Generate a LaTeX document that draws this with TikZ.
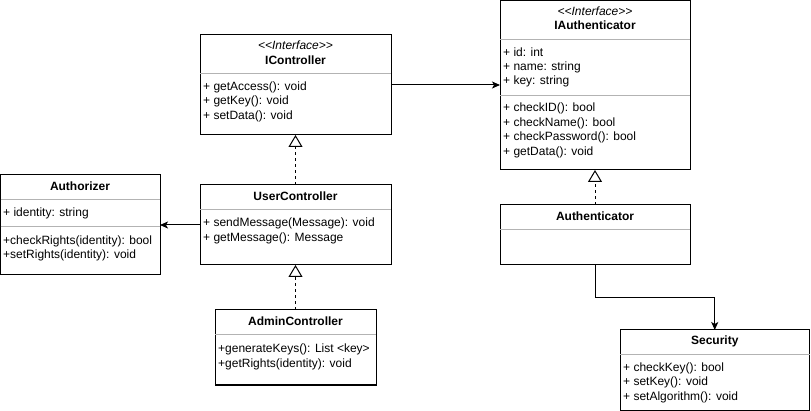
\documentclass[tikz,border=0pt]{standalone}
\usepackage{fontspec}
\setmainfont{Liberation Sans}
\usetikzlibrary{arrows.meta}
\definecolor{sepgray}{HTML}{B3B3B3}
\begin{document}
\begin{tikzpicture}[x=1pt,y=-1pt,
 box/.style={draw=black,line width=1pt,anchor=north west,inner sep=0pt,outer sep=0pt},
 sepline/.style={draw=sepgray,line width=1pt},
 txt/.style={anchor=west,inner sep=0pt,font=\fontsize{12}{14}\selectfont},
 ttl/.style={inner sep=0pt,font=\fontsize{12}{14}\selectfont\bfseries},
 ster/.style={inner sep=0pt,font=\fontsize{12}{14}\selectfont\itshape},
 assoc/.style={line width=1pt,-{Stealth[length=8pt,width=7pt,inset=2pt]}},
 realize/.style={line width=1pt,dash pattern=on 3pt off 3pt,-{Triangle[open,length=12pt,width=14pt,fill=white,line width=1pt]}}]
\useasboundingbox (0,0) rectangle (811,411);

% IController
\node[box,minimum width=191pt,minimum height=100pt] (ictrl) at (200,35) {};
\node[ster] (ictrlS) at (295.5,45.5) {{<}\kern0pt{<}Interface{>}\kern0pt{>}};
\node[ttl] (ictrlT) at (295.5,60) {IController};
\draw[sepline] (200,73.5) -- (391,73.5);
\node[txt] (ictrl1) at (203,87) {+ getAccess(): void};
\node[txt] (ictrl2) at (203,101.5) {+ getKey(): void};
\node[txt] (ictrl3) at (203,116) {+ setData(): void};

% IAuthenticator
\node[box,minimum width=190pt,minimum height=169pt] (iauth) at (500,1) {};
\node[ster] (iauthS) at (595,11) {{<}\kern0pt{<}Interface{>}\kern0pt{>}};
\node[ttl] (iauthT) at (595,25) {IAuthenticator};
\draw[sepline] (500,39.5) -- (690,39.5);
\node[txt] (ia1) at (503,52.5) {+ id: int};
\node[txt] (ia2) at (503,67) {+ name: string};
\node[txt] (ia3) at (503,81.5) {+ key: string};
\draw[sepline] (500,95.5) -- (690,95.5);
\node[txt] (ia4) at (503,108.5) {+ checkID(): bool};
\node[txt] (ia5) at (503,123) {+ checkName(): bool};
\node[txt] (ia6) at (503,137.5) {+ checkPassword(): bool};
\node[txt] (ia7) at (503,152) {+ getData(): void};

% Authenticator
\node[box,minimum width=190pt,minimum height=60pt] (authn) at (500,205) {};
\node[ttl] (authnT) at (595,216) {Authenticator};
\draw[sepline] (500,229.5) -- (690,229.5);

% Authorizer
\node[box,minimum width=159.5pt,minimum height=100pt] (authz) at (0.5,175) {};
\node[ttl] (authzT) at (80,186) {Authorizer};
\draw[sepline] (0.5,199.5) -- (160,199.5);
\node[txt] (az1) at (3,213) {+ identity: string};
\draw[sepline] (0.5,227) -- (160,227);
\node[txt] (az2) at (3,241) {+checkRights(identity): bool};
\node[txt] (az3) at (3,255.5) {+setRights(identity): void};

% UserController
\node[box,minimum width=191pt,minimum height=80pt] (user) at (200,185) {};
\node[ttl] (userT) at (295.5,196.5) {UserController};
\draw[sepline] (200,209.5) -- (391,209.5);
\node[txt] (u1) at (203,223) {+ sendMessage(Message): void};
\node[txt] (u2) at (203,238) {+ getMessage(): Message};

% AdminController
\node[box,minimum width=161pt,minimum height=75pt] (admin) at (215,310) {};
\node[ttl] (adminT) at (295.5,321) {AdminController};
\draw[sepline] (215,334.5) -- (376,334.5);
\node[txt] (ad1) at (218,349.5) {+generateKeys(): List <key>};
\node[txt] (ad2) at (218,364) {+getRights(identity): void};

% Security
\node[box,minimum width=189.5pt,minimum height=80pt] (sec) at (620,330) {};
\node[ttl] (secT) at (714.75,341) {Security};
\draw[sepline] (620,354.5) -- (809.5,354.5);
\node[txt] (s1) at (623,368) {+ checkKey(): bool};
\node[txt] (s2) at (623,382.5) {+ setKey(): void};
\node[txt] (s3) at (623,397) {+ setAlgorithm(): void};

% connectors
\draw[assoc] (ictrl.east) -- (iauth.west |- ictrl.east);
\draw[assoc] (user.west) -- (authz.east |- user.west);
\draw[realize] (user.north) -- (ictrl.south);
\draw[realize] (admin.north) -- (user.south);
\draw[realize] (authn.north) -- (iauth.south);
\coordinate (bend) at (595,298);
\draw[assoc] (authn.south) -- (bend) -| (sec.north);
\end{tikzpicture}
\end{document}
